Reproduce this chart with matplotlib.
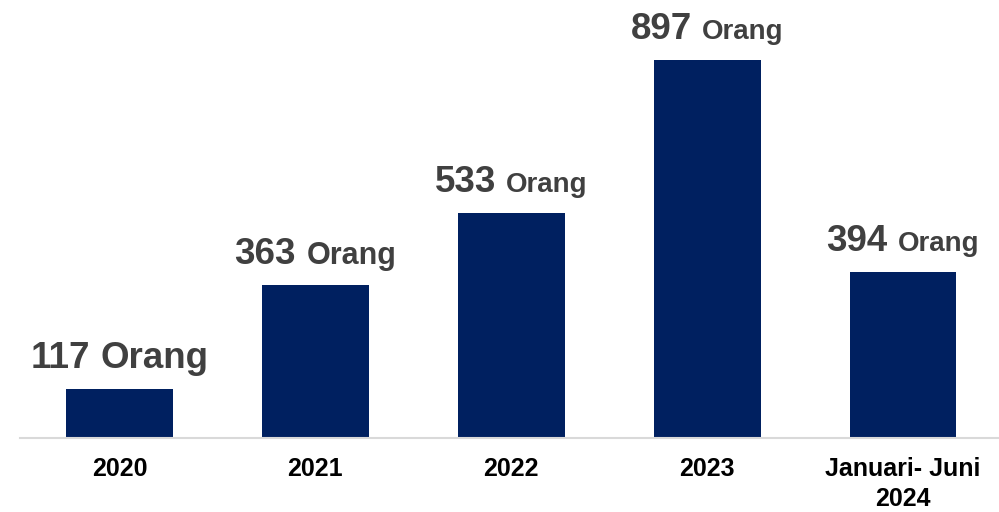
import matplotlib
matplotlib.use("Agg")
import matplotlib.pyplot as plt

categories = ["2020", "2021", "2022", "2023", "Januari- Juni\n2024"]
values = [117, 363, 533, 897, 394]
unit = "Orang"
# ukuran huruf "Orang" per batang (titik)
unit_sizes = [26.5, 22, 20, 20, 20]

plt.rcParams['font.family'] = ['Liberation Sans', 'DejaVu Sans']

fig = plt.figure(figsize=(9.99, 5.12), dpi=100)
ax = fig.add_axes([0.02, 0.1445, 0.98, 0.8555])

x = range(len(categories))
ax.bar(x, values, width=0.546, color='#002060', zorder=2)

ax.set_xlim(-0.508, 4.49)
ax.set_ylim(0, 1039)
for s in ['top', 'right', 'left']:
    ax.spines[s].set_visible(False)
ax.spines['bottom'].set_color('#d9d9d9')
ax.spines['bottom'].set_linewidth(1.5)
ax.set_yticks([])
ax.set_xticks(list(x))
ax.set_xticklabels(categories, fontsize=18, fontweight='bold', color='black', linespacing=1.3)
ax.tick_params(axis='x', length=0, pad=14)

num_txt = []
unit_txt = []
for i, v in enumerate(values):
    a = ax.annotate(str(v), xy=(i, v), xytext=(0, 15), textcoords='offset points',
                    ha='left', va='baseline', fontsize=26.5, fontweight='bold', color='#404040')
    b = ax.annotate(unit, xy=(i, v), xytext=(0, 15), textcoords='offset points',
                    ha='left', va='baseline', fontsize=unit_sizes[i], fontweight='bold', color='#404040')
    num_txt.append(a)
    unit_txt.append(b)

fig.canvas.draw()
r = fig.canvas.get_renderer()
k = 72.0 / fig.dpi
for i in range(len(values)):
    w1 = num_txt[i].get_window_extent(r).width * k
    w2 = unit_txt[i].get_window_extent(r).width * k
    gap = 0.278 * 26.5
    total = w1 + gap + w2
    num_txt[i].xyann = (-total / 2, 15)
    unit_txt[i].xyann = (-total / 2 + w1 + gap, 15)

fig.savefig("out.png", dpi=100)
